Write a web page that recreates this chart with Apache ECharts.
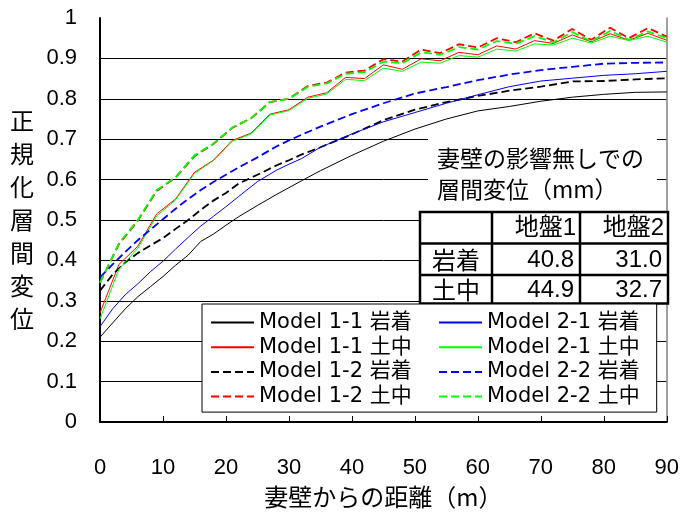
<!DOCTYPE html>
<html>
<head>
<meta charset="utf-8">
<script src="https://cdn.jsdelivr.net/npm/echarts@6/dist/echarts.min.js"></script>
<style>html,body{margin:0;padding:0;background:#fff;}#c{width:682px;height:515px;}</style>
</head>
<body>
<div id="c"></div>
<script>
// ---- data ----
const distSmooth = [0,2,4,6,8,10,12,14,16,18,20,22,25,28,30,32,35,40,45,50,55,60,65,70,75,80,85,90];
const distWavy = [0,3,6,9,12,15,18,21,24,27,30,33,36,39,42,45,48,51,54,57,60,63,66,69,72,75,78,81,84,87,90];

const m11Rock = [0.21,0.245,0.28,0.31,0.335,0.36,0.388,0.413,0.447,0.465,0.487,0.508,0.536,0.563,0.58,0.597,0.622,0.66,0.695,0.725,0.75,0.77,0.781,0.794,0.804,0.811,0.816,0.817];
const m21Rock = [0.236,0.28,0.315,0.342,0.372,0.398,0.428,0.457,0.485,0.509,0.533,0.558,0.595,0.623,0.638,0.652,0.68,0.713,0.743,0.766,0.789,0.81,0.83,0.844,0.851,0.858,0.862,0.868];
const m12Rock = [0.325,0.365,0.395,0.418,0.437,0.455,0.478,0.5,0.525,0.548,0.567,0.59,0.612,0.635,0.648,0.662,0.68,0.712,0.747,0.773,0.792,0.807,0.82,0.83,0.843,0.844,0.848,0.851];
const m22Rock = [0.358,0.39,0.421,0.45,0.476,0.502,0.528,0.552,0.574,0.594,0.612,0.63,0.655,0.682,0.697,0.711,0.731,0.762,0.789,0.813,0.829,0.846,0.86,0.871,0.879,0.887,0.889,0.89];

const m11Soil = [0.27,0.39,0.435,0.515,0.552,0.618,0.648,0.697,0.715,0.762,0.773,0.804,0.815,0.853,0.85,0.884,0.873,0.899,0.894,0.915,0.909,0.931,0.923,0.944,0.937,0.958,0.941,0.961,0.945,0.962,0.945];
const m21Soil = [0.255,0.378,0.43,0.51,0.55,0.615,0.647,0.695,0.713,0.76,0.771,0.801,0.812,0.848,0.845,0.876,0.868,0.891,0.888,0.907,0.903,0.923,0.918,0.936,0.933,0.95,0.938,0.955,0.944,0.955,0.94];
const m12Soil = [0.345,0.44,0.498,0.572,0.605,0.658,0.688,0.728,0.752,0.792,0.8,0.832,0.84,0.865,0.87,0.898,0.892,0.922,0.913,0.935,0.927,0.95,0.94,0.962,0.944,0.973,0.946,0.976,0.95,0.975,0.954];
const m22Soil = [0.345,0.442,0.5,0.574,0.606,0.66,0.689,0.729,0.752,0.792,0.8,0.83,0.838,0.862,0.866,0.892,0.888,0.915,0.909,0.928,0.922,0.943,0.936,0.955,0.94,0.965,0.942,0.968,0.946,0.967,0.95];

const seriesNames = ['Model 1-1 岩着','Model 1-1 土中','Model 1-2 岩着','Model 1-2 土中','Model 2-1 岩着','Model 2-1 土中','Model 2-2 岩着','Model 2-2 土中'];

const tableTitle = ['妻壁の影響無しでの','層間変位（mm）'];
const tableHeader = ['地盤1','地盤2'];
const tableRowLabels = ['岩着','土中'];
const tableValues = [['40.8','31.0'],['44.9','32.7']];

const xAxisTitle = '妻壁からの距離（m）';
const yAxisTitle = '正規化層間変位';

// ---- build ----
function zip(xs, ys){ return xs.map((x,i)=>[x, ys[i]]); }
const LAT = "'Liberation Sans','Noto Sans CJK JP',sans-serif";
const CJK = "'Noto Sans CJK JP',sans-serif";
const LEG = "'DejaVu Sans','Noto Sans CJK JP',sans-serif";

function mk(name, xs, ys, color, dashed){
  return {
    name, type:'line', data: zip(xs, ys), symbol:'none', showSymbol:false,
    lineStyle:{color, width: dashed?1.8:1, type: dashed?[8,4]:'solid'},
    itemStyle:{color}, animation:false, z:2
  };
}

const series = [
  mk(seriesNames[0], distSmooth, m11Rock, '#000000', false),
  mk(seriesNames[1], distWavy, m11Soil, '#ff0000', false),
  mk(seriesNames[2], distSmooth, m12Rock, '#000000', true),
  mk(seriesNames[3], distWavy, m12Soil, '#ff0000', true),
  mk(seriesNames[4], distSmooth, m21Rock, '#0000ff', false),
  mk(seriesNames[5], distWavy, m21Soil, '#00ff00', false),
  mk(seriesNames[6], distSmooth, m22Rock, '#0000ff', true),
  mk(seriesNames[7], distWavy, m22Soil, '#00ff00', true)
];

// table graphics
const colX = [420, 492, 580, 668];
const rowY = [212, 243.5, 275, 303.5];
const g = [];
g.push({type:'rect', shape:{x:428,y:134,width:229,height:78}, style:{fill:'#fff'}, z:3});
g.push({type:'rect', shape:{x:colX[0],y:rowY[0],width:colX[3]-colX[0],height:rowY[3]-rowY[0]}, style:{fill:'#fff'}, z:3});
tableTitle.forEach((t,i)=>{
  g.push({type:'text', z:4, style:{text:t, x:437, y:158+i*31, align:'left', verticalAlign:'middle', fontSize:23, fontFamily:CJK, fill:'#000'}});
});
for (let c=1;c<3;c++) g.push({type:'line', z:4, shape:{x1:colX[c],y1:rowY[0],x2:colX[c],y2:rowY[3]}, style:{stroke:'#000',lineWidth:2.5}});
for (let r=1;r<3;r++) g.push({type:'line', z:4, shape:{x1:colX[0],y1:rowY[r],x2:colX[3],y2:rowY[r]}, style:{stroke:'#000',lineWidth:2.5}});
g.push({type:'rect', z:4, shape:{x:colX[0],y:rowY[0],width:colX[3]-colX[0],height:rowY[3]-rowY[0]}, style:{fill:'none',stroke:'#000',lineWidth:2.5}});
tableHeader.forEach((t,c)=>{
  g.push({type:'text', z:5, style:{text:t, x:colX[c+2]-4, y:(rowY[0]+rowY[1])/2+1, align:'right', verticalAlign:'middle', fontSize:24, fontFamily:LAT, fill:'#000'}});
});
tableRowLabels.forEach((t,r)=>{
  g.push({type:'text', z:5, style:{text:t, x:(colX[0]+colX[1])/2, y:(rowY[r+1]+rowY[r+2])/2+1, align:'center', verticalAlign:'middle', fontSize:24, fontFamily:CJK, fill:'#000'}});
  tableValues[r].forEach((v,c)=>{
    g.push({type:'text', z:5, style:{text:v, x:colX[c+2]-6, y:(rowY[r+1]+rowY[r+2])/2+1, align:'right', verticalAlign:'middle', fontSize:24, fontFamily:LAT, fill:'#000'}});
  });
});

const legendText = {color:'#000', fontSize:21, lineHeight:20, fontFamily:LEG};
const legendItemStyle = {color:'rgba(0,0,0,0)', borderWidth:0, opacity:0};

const option = {
  backgroundColor:'#fff',
  animation:false,
  grid:{left:100, right:14, top:18, bottom:93, containLabel:false},
  xAxis:{
    type:'value', min:0, max:90, interval:10,
    name:xAxisTitle, nameLocation:'middle', nameGap:75,
    nameTextStyle:{fontSize:24, fontFamily:CJK, color:'#000', verticalAlign:'middle'},
    axisLine:{show:true, lineStyle:{color:'#000', width:2}},
    axisTick:{show:true, inside:true, length:6, lineStyle:{color:'#000', width:1}},
    axisLabel:{margin:35, fontSize:22, fontFamily:LAT, color:'#000'},
    splitLine:{show:false}
  },
  yAxis:[{
    type:'value', min:0, max:1, interval:0.1,
    name: yAxisTitle.split('').join('\n'), nameLocation:'middle', nameRotate:0, nameGap:78,
    nameTextStyle:{fontSize:24, lineHeight:33, fontFamily:CJK, color:'#000', align:'center', verticalAlign:'middle', padding:[7,0,0,0]},
    axisLine:{show:true, lineStyle:{color:'#000', width:2}},
    axisTick:{show:false},
    axisLabel:{margin:23, fontSize:22, fontFamily:LAT, color:'#000'},
    splitLine:{show:true, showMaxLine:false, lineStyle:{color:'#000', width:1}}
  },{
    type:'value', min:0, max:1, interval:0.1, position:'right',
    axisLine:{show:true, lineStyle:{color:'#808080', width:1.5}},
    axisTick:{show:false}, axisLabel:{show:false}, splitLine:{show:false}
  }],
  legend:[{
    data: seriesNames.slice(0,4), orient:'vertical', left:202, top:304,
    padding:[8,245,5,8], itemGap:3.7, itemWidth:43, itemHeight:14,
    backgroundColor:'#fff', borderColor:'#000', borderWidth:1, borderRadius:0,
    itemStyle:legendItemStyle,
    textStyle:legendText, z:6, selectedMode:false
  },{
    data: seriesNames.slice(4), orient:'vertical', left:438, top:304,
    padding:[8,0,5,0], itemGap:3.7, itemWidth:43, itemHeight:14,
    itemStyle:legendItemStyle,
    textStyle:legendText, z:7, selectedMode:false
  }],
  graphic:{elements:g},
  series
};

const chart = echarts.init(document.getElementById('c'), null, {renderer:'canvas'});
chart.setOption(option);
</script>
</body>
</html>
